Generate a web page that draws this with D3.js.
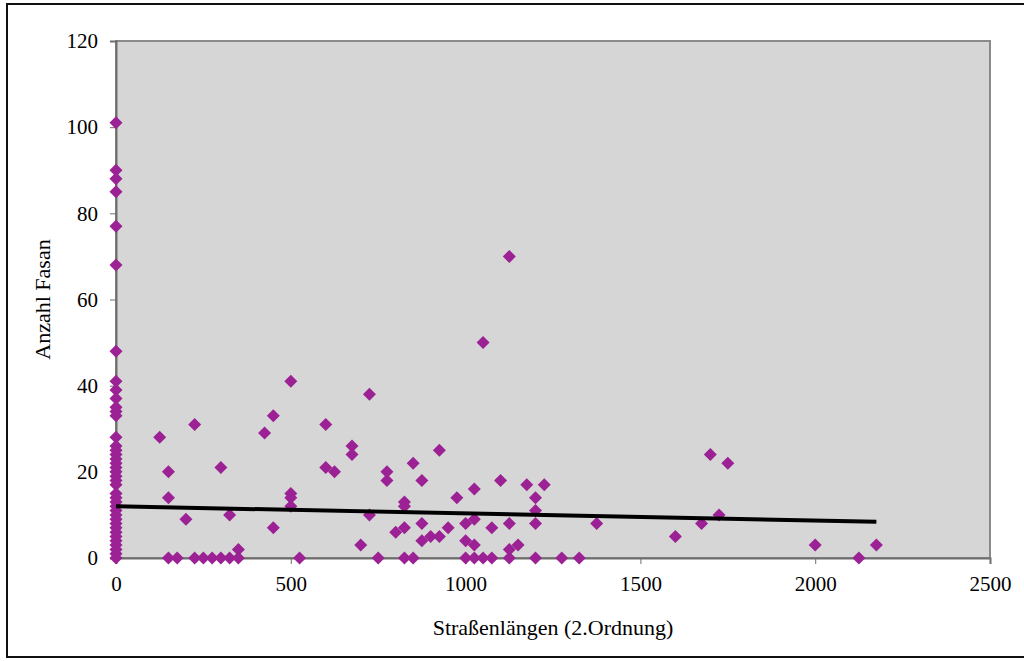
<!DOCTYPE html>
<html>
<head>
<meta charset="utf-8">
<script src="https://cdn.jsdelivr.net/npm/d3@7"></script>
<style>
  html, body { margin: 0; padding: 0; background: #fff; }
  svg { display: block; }
</style>
</head>
<body>
<svg id="chart" width="1024" height="661"></svg>
<script>
// Straßenlänge (2. Ordnung) je Fläche und gezählte Fasane
const roadLength = [
  0, 0, 0, 0, 0, 0, 0, 0, 0, 0, 0, 0, 0, 0, 0, 0, 0, 0, 0, 0,
  0, 0, 0, 0, 0, 0, 0, 0, 0, 0, 0, 0, 0, 0, 0, 0, 0, 0, 0, 0,
  125, 150, 150, 150, 175, 200, 225, 225, 250, 275, 300, 300, 325, 325, 350, 350,
  425, 450, 450, 500, 500, 500, 500, 525, 600, 600, 625, 675, 675, 700, 725, 725,
  750, 775, 775, 800, 825, 825, 825, 825, 850, 850, 875, 875, 875, 900, 925, 925,
  950, 975, 1000, 1000, 1000, 1025, 1025, 1025, 1025, 1050, 1050, 1075, 1075, 1100,
  1125, 1125, 1125, 1125, 1150, 1175, 1200, 1200, 1200, 1200, 1225, 1275, 1325, 1375,
  1600, 1675, 1700, 1725, 1750, 2000, 2125, 2175
];
const pheasantCount = [
  101, 90, 88, 85, 77, 68, 48, 41, 39, 37, 35, 34, 33, 28, 26, 25, 24, 23, 22, 21,
  20, 19, 18, 17, 15, 14, 13, 12, 11, 10, 9, 8, 7, 6, 5, 4, 3, 2, 1, 0,
  28, 20, 14, 0, 0, 9, 31, 0, 0, 0, 21, 0, 10, 0, 2, 0,
  29, 33, 7, 41, 15, 14, 12, 0, 31, 21, 20, 26, 24, 3, 38, 10,
  0, 20, 18, 6, 13, 12, 7, 0, 22, 0, 18, 8, 4, 5, 25, 5,
  7, 14, 8, 4, 0, 16, 9, 3, 0, 50, 0, 7, 0, 18,
  70, 8, 2, 0, 3, 17, 14, 11, 8, 0, 17, 0, 0, 8,
  5, 8, 24, 10, 22, 3, 0, 3
];
// Lineare Trendlinie: Anfangs- und Endpunkt
const trendX = [0, 2175];
const trendY = [12.0, 8.4];

const xTicks = [0, 500, 1000, 1500, 2000, 2500];
const yTicks = [0, 20, 40, 60, 80, 100, 120];

const svg = d3.select("#chart");
const plot = { left: 116, top: 41, right: 990, bottom: 558 };

const x = d3.scaleLinear().domain([0, 2500]).range([plot.left, plot.right]);
const y = d3.scaleLinear().domain([0, 120]).range([plot.bottom, plot.top]);

const serif = "'Liberation Serif', 'Times New Roman', serif";

// äußerer Rahmen
svg.append("rect")
  .attr("x", 7).attr("y", 4)
  .attr("width", 1040).attr("height", 653)
  .attr("fill", "none").attr("stroke", "#111").attr("stroke-width", 2);

// Zeichenfläche
svg.append("rect")
  .attr("x", plot.left).attr("y", plot.top)
  .attr("width", plot.right - plot.left).attr("height", plot.bottom - plot.top)
  .attr("fill", "#d6d6d6").attr("stroke", "#8a8a8a").attr("stroke-width", 2);

// Achsen
const xAxis = svg.append("g")
  .attr("transform", `translate(0,${plot.bottom})`)
  .call(d3.axisBottom(x).tickValues(xTicks).tickSize(6).tickPadding(12).tickFormat(d3.format("d")));
const yAxis = svg.append("g")
  .attr("transform", `translate(${plot.left},0)`)
  .call(d3.axisLeft(y).tickValues(yTicks).tickSize(6).tickPadding(12).tickFormat(d3.format("d")));

[xAxis, yAxis].forEach(g => {
  g.select(".domain").attr("stroke", "#6e6e6e").attr("stroke-width", 2);
  g.selectAll(".tick line").attr("stroke", "#6e6e6e").attr("stroke-width", 1);
  g.selectAll(".tick text")
    .attr("font-family", serif).attr("font-size", 21).attr("fill", "#000");
});

// Datenpunkte (Rauten)
const points = roadLength.map((d, i) => ({ len: d, count: pheasantCount[i] }));
const r = 6.5;
svg.append("g")
  .selectAll("path")
  .data(points)
  .join("path")
  .attr("d", d => {
    const cx = x(d.len), cy = y(d.count);
    return `M${cx},${cy - r}L${cx + r},${cy}L${cx},${cy + r}L${cx - r},${cy}Z`;
  })
  .attr("fill", "#9b2194");

// Trendlinie
const trend = trendX.map((d, i) => [d, trendY[i]]);
svg.append("path")
  .datum(trend)
  .attr("d", d3.line().x(d => x(d[0])).y(d => y(d[1])))
  .attr("fill", "none").attr("stroke", "#000").attr("stroke-width", 4);

// Achsentitel
svg.append("text")
  .attr("x", (plot.left + plot.right) / 2).attr("y", 635)
  .attr("text-anchor", "middle")
  .attr("font-family", serif).attr("font-size", 22)
  .text("Straßenlängen (2.Ordnung)");

svg.append("text")
  .attr("transform", `translate(50,${(plot.top + plot.bottom) / 2}) rotate(-90)`)
  .attr("text-anchor", "middle")
  .attr("font-family", serif).attr("font-size", 22)
  .text("Anzahl Fasan");
</script>
</body>
</html>
